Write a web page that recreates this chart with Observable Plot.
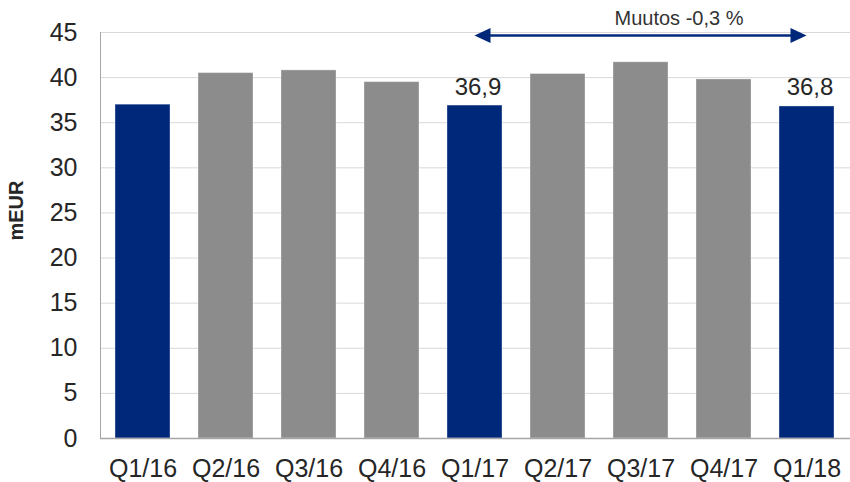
<!DOCTYPE html>
<html>
<head>
<meta charset="utf-8">
<script src="https://cdn.jsdelivr.net/npm/d3@7"></script>
<script src="https://cdn.jsdelivr.net/npm/@observablehq/plot@0.6"></script>
<style>
  html, body { margin: 0; padding: 0; background: #fff; }
  #chart { width: 850px; height: 482px; }
</style>
</head>
<body>
<div id="chart"></div>
<script>
// Quarterly figures, mEUR
const quarters = ["Q1/16", "Q2/16", "Q3/16", "Q4/16", "Q1/17", "Q2/17", "Q3/17", "Q4/17", "Q1/18"];
const values = [37.0, 40.5, 40.8, 39.5, 36.9, 40.4, 41.7, 39.8, 36.8];
// First quarters are highlighted and labelled
const highlighted = ["Q1/16", "Q1/17", "Q1/18"];
const labelled = ["Q1/17", "Q1/18"];
const yTicks = [0, 5, 10, 15, 20, 25, 30, 35, 40, 45];

// Change annotation between the two compared quarters
const changeFrom = "Q1/17";
const changeTo = "Q1/18";
const changeLevel = 44.6;
const changeText = "Muutos -0,3 %";
const changeTextAt = "Q3/17";

const BLUE = "#00287a";
const GREY = "#8c8c8c";

const data = quarters.map((q, i) => ({quarter: q, value: values[i], hl: highlighted.includes(q)}));
const labels = data.filter(d => labelled.includes(d.quarter));
const fmt = v => v.toFixed(1).replace(".", ",");

// Double-headed arrow drawn through the plot's scales
function changeArrow(index, scales) {
  const x = scales.x, y = scales.y;
  const half = x.bandwidth() / 2;
  const x1 = x(changeFrom) + half, x2 = x(changeTo) + half, yy = y(changeLevel);
  const head = 16, w = 7.5;
  const g = d3.create("svg:g");
  g.append("line")
    .attr("x1", x1 + head - 2).attr("x2", x2 - head + 2)
    .attr("y1", yy).attr("y2", yy)
    .attr("stroke", BLUE).attr("stroke-width", 2.5);
  g.append("path")
    .attr("d", `M${x1},${yy}L${x1 + head},${yy - w}L${x1 + head},${yy + w}Z`)
    .attr("fill", BLUE);
  g.append("path")
    .attr("d", `M${x2},${yy}L${x2 - head},${yy - w}L${x2 - head},${yy + w}Z`)
    .attr("fill", BLUE);
  return g.node();
}

const chart = Plot.plot({
  width: 850,
  height: 482,
  marginLeft: 100,
  marginRight: 0,
  marginTop: 32,
  marginBottom: 44,
  style: {fontFamily: "'Liberation Sans', Arial, sans-serif", color: "#262626", background: "#fff"},
  x: {domain: quarters, paddingInner: 0.333, paddingOuter: 0.17},
  y: {domain: [0, 45]},
  marks: [
    Plot.gridY(yTicks, {stroke: "#d9d9d9", strokeOpacity: 1, strokeWidth: 1}),
    Plot.frame({anchor: "left", stroke: "#a6a6a6"}),
    Plot.barY(data, {
      x: "quarter", y: "value",
      fill: d => d.hl ? BLUE : GREY,
      stroke: "#ffffff", strokeOpacity: 0.35, strokeWidth: 1
    }),
    Plot.ruleY([0], {stroke: "#a6a6a6", strokeWidth: 1.5}),
    Plot.axisY({ticks: yTicks, tickSize: 0, tickPadding: 23, fontSize: 25, label: null}),
    Plot.axisX({tickSize: 0, tickPadding: 21, fontSize: 25, label: null}),
    Plot.text(["mEUR"], {frameAnchor: "left", rotate: -90, dx: -84, dy: 5, fontSize: 20, fontWeight: "bold", fill: "#262626"}),
    Plot.text(labels, {
      x: "quarter", y: "value", text: d => fmt(d.value),
      lineAnchor: "bottom", dy: -11, dx: 3, fontSize: 24, fill: "#262626"
    }),
    changeArrow,
    Plot.text([changeText], {x: () => changeTextAt, y: () => 45, dx: 38, dy: -8, lineAnchor: "bottom", fontSize: 20, fill: "#333"})
  ]
});
document.getElementById("chart").appendChild(chart);
</script>
</body>
</html>
